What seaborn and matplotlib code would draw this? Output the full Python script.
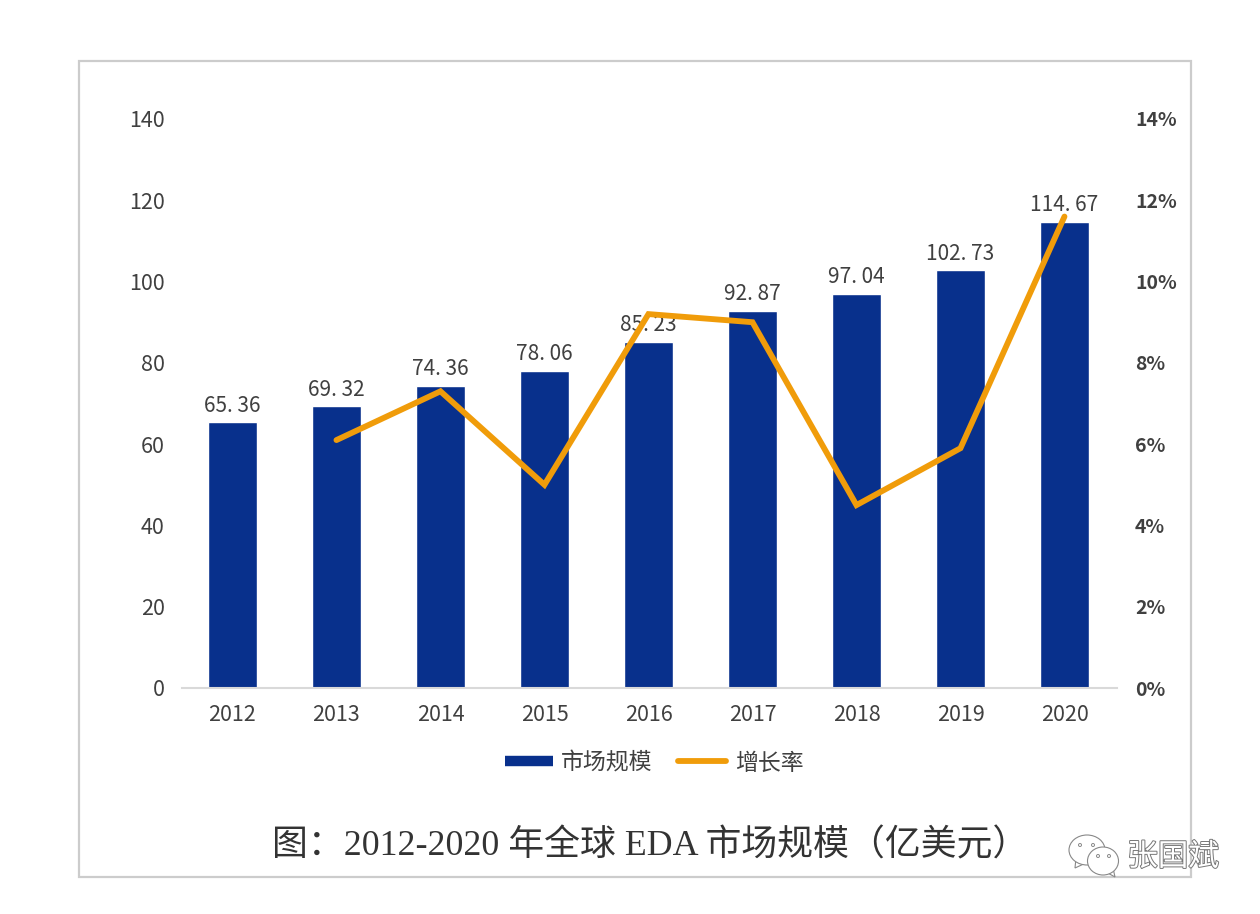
import numpy as np
import pandas as pd
import matplotlib
matplotlib.use("Agg")
import matplotlib.pyplot as plt
import matplotlib.patheffects as pe
from matplotlib.lines import Line2D
from matplotlib.patches import Rectangle, Ellipse, Polygon
import seaborn as sns

sns.set_theme(style="white")
plt.rcParams['font.family'] = ['Noto Sans CJK SC', 'DejaVu Sans']

years = ["2012", "2013", "2014", "2015", "2016", "2017", "2018", "2019", "2020"]
market_size = [65.36, 69.32, 74.36, 78.06, 85.23, 92.87, 97.04, 102.73, 114.67]
growth_years = [1, 2, 3, 4, 5, 6, 7, 8]
growth = [6.1, 7.3, 5.0, 9.2, 9.0, 4.5, 5.9, 11.6]
left_ticks = [0, 20, 40, 60, 80, 100, 120, 140]
right_ticks = [0, 2, 4, 6, 8, 10, 12, 14]
bar_name = "市场规模"
line_name = "增长率"
caption = "图：2012-2020 年全球 EDA 市场规模（亿美元）"
watermark = "张国斌"

bar_color = "#08308c"
line_color = "#f09c0a"
text_color = "#404040"
W, H = 1260, 914

fig = plt.figure(figsize=(12.6, 9.14), dpi=100, facecolor="white")

# outer frame of the screenshot
fig.add_artist(Rectangle((79 / W, 1 - 877 / H), 1112 / W, 816 / H, transform=fig.transFigure,
                         fill=False, ec="#cccccc", lw=1.6))

ax = fig.add_axes([182 / W, 1 - 688 / H, 935 / W, 569 / H])
df = pd.DataFrame({"year": years, "size": market_size})
sns.barplot(data=df, x="year", y="size", color=bar_color, saturation=1, width=0.475, ax=ax)
ax.set_xlim(-0.485, 8.505)
ax.set_ylim(0, 140)
ax.set_xlabel("")
ax.set_ylabel("")
ax.set_yticks(left_ticks)
ax.tick_params(axis="both", length=0, labelsize=15.5, labelcolor=text_color)
ax.tick_params(axis="x", pad=11.5)
ax.tick_params(axis="y", pad=12.5)
for lab in ax.get_xticklabels() + ax.get_yticklabels():
    lab.set_fontweight("medium")
for s in ["top", "right", "left"]:
    ax.spines[s].set_visible(False)
ax.spines["bottom"].set_color("#d9d9d9")
ax.spines["bottom"].set_linewidth(1.5)
# the source shows a gap after the decimal point
ax.bar_label(ax.containers[0], labels=[f"{v:.2f}".replace(".", ". ") for v in market_size],
             padding=4, fontsize=15, color=text_color, fontweight="medium")

ax2 = ax.twinx()
sns.lineplot(x=growth_years, y=growth, color=line_color, lw=4.2, ax=ax2, legend=False,
             solid_joinstyle="miter", solid_capstyle="round")
ax2.set_ylim(0, 14)
ax2.set_yticks(right_ticks)
ax2.set_yticklabels([f"{t}%" for t in right_ticks], fontweight="bold")
ax2.tick_params(axis="y", length=0, labelsize=14, labelcolor=text_color, pad=13)
ax2.set_ylabel("")
ax2.grid(False)
for s in ax2.spines.values():
    s.set_visible(False)

handles = [Line2D([0], [0], color=bar_color, lw=7.5, solid_capstyle="butt"),
           Line2D([0], [0], color=line_color, lw=4.2, solid_capstyle="round")]
fig.legend(handles, [bar_name, line_name], loc="center", bbox_to_anchor=(654 / W, 1 - 763 / H),
           ncol=2, frameon=False, fontsize=16.5, labelcolor=text_color, handlelength=2.1,
           handletextpad=0.38, columnspacing=1.1)

fig.text(650 / W, 1 - 846 / H, caption, ha="center", va="center", fontsize=25.8,
         color="#333333", family=["Liberation Serif", "Noto Sans CJK SC"])

# wechat style watermark
bg = fig.add_axes([0, 0, 1, 1], zorder=5)
bg.set_xlim(0, W)
bg.set_ylim(H, 0)
bg.axis("off")
bg.patch.set_alpha(0)
bg.add_patch(Polygon([(1076, 858), (1075, 868), (1088, 862)], closed=True, fc="white", ec="#888888", lw=0.8))
bg.add_patch(Ellipse((1087, 850), 36, 30, fc="white", ec="#888888", lw=0.8))
bg.add_patch(Polygon([(1106, 872), (1115, 877), (1113, 868)], closed=True, fc="white", ec="#888888", lw=0.8))
bg.add_patch(Ellipse((1103, 861), 31, 28, fc="white", ec="#888888", lw=0.8))
for px, py in [(1080, 845), (1093, 845), (1098, 856), (1109, 856)]:
    bg.add_patch(Ellipse((px, py), 3, 3, fc="white", ec="#888888", lw=0.7))
bg.text(1173, 857, watermark, ha="center", va="center", fontsize=22, color="white",
        path_effects=[pe.withStroke(linewidth=1.4, foreground="#777777")])

fig.savefig("out.png", dpi=100, facecolor="white")
